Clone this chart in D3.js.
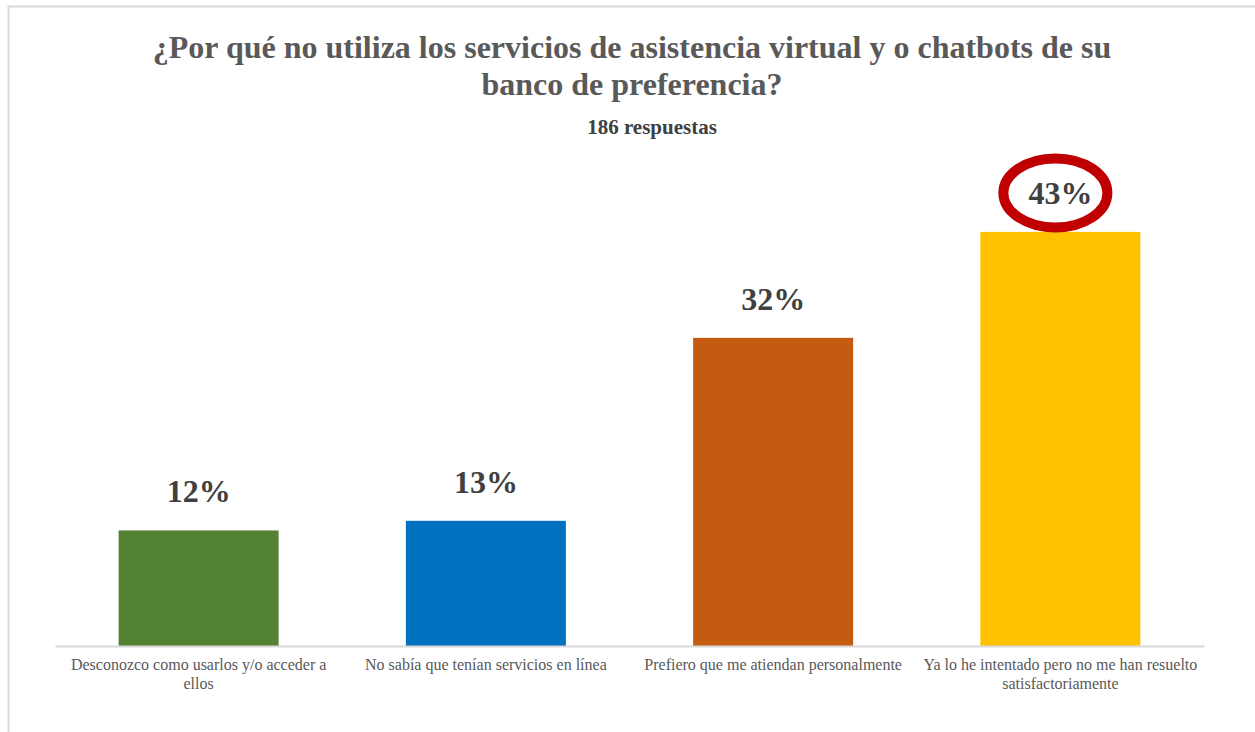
<!DOCTYPE html>
<html lang="es">
<head>
<meta charset="utf-8">
<script src="https://cdn.jsdelivr.net/npm/d3@7"></script>
<style>
  html, body { margin: 0; padding: 0; background: #fff; }
  svg { display: block; }
</style>
</head>
<body>
<svg id="chart" width="1255" height="732"></svg>
<script>
// Survey responses (share of 186 answers)
const categories = [
  "Desconozco como usarlos y/o acceder a ellos",
  "No sabía que tenían servicios en línea",
  "Prefiero que me atiendan personalmente",
  "Ya lo he intentado pero no me han resuelto satisfactoriamente"
];
const values = [12, 13, 32, 43];
const barColors = ["#548235", "#0070C0", "#C55A11", "#FFC000"];
const titleLines = [
  "¿Por qué no utiliza los servicios de asistencia virtual y o chatbots de su",
  "banco de preferencia?"
];
const subtitle = "186 respuestas";
const highlightIndex = 3;

const svg = d3.select("#chart");
const W = 1255, H = 732;
const serif = "'Liberation Serif', 'Times New Roman', serif";

// Chart area frame
svg.append("rect")
  .attr("x", 8.5).attr("y", 6.5)
  .attr("width", W + 10).attr("height", H + 10)
  .attr("fill", "#fff")
  .attr("stroke", "#d9d9d9").attr("stroke-width", 2);

// Title and subtitle
svg.append("text")
  .attr("x", 632).attr("y", 58)
  .attr("text-anchor", "middle")
  .attr("font-family", serif).attr("font-weight", "bold")
  .attr("font-size", 32).attr("fill", "#595959")
  .selectAll("tspan").data(titleLines).join("tspan")
  .attr("x", 632).attr("dy", (d, i) => i === 0 ? 0 : 37)
  .text(d => d);

svg.append("text")
  .attr("x", 652).attr("y", 134)
  .attr("text-anchor", "middle")
  .attr("font-family", serif).attr("font-weight", "bold")
  .attr("font-size", 21).attr("fill", "#404040")
  .text(subtitle);

// Scales
const x = d3.scaleBand()
  .domain(categories)
  .range([55, 1204])
  .paddingInner(0.443)
  .paddingOuter(0.2215);

const y = d3.scaleLinear()
  .domain([0, 50])
  .range([646, 646 - 481.5]);

// Bars
svg.append("g").selectAll("rect")
  .data(values).join("rect")
  .attr("x", (d, i) => x(categories[i]))
  .attr("y", d => y(d))
  .attr("width", x.bandwidth())
  .attr("height", d => y(0) - y(d))
  .attr("fill", (d, i) => barColors[i]);

// Category axis
const xAxis = svg.append("g")
  .attr("transform", `translate(0,${y(0)})`)
  .call(d3.axisBottom(x).tickSize(0).tickPadding(0));
xAxis.select(".domain").attr("stroke", "#d9d9d9").attr("stroke-width", 2);
xAxis.selectAll(".tick text").remove();

// Wrapped category labels
const maxLabelWidth = 281;
xAxis.selectAll(".tick").each(function(cat) {
  const t = d3.select(this).append("text")
    .attr("text-anchor", "middle")
    .attr("font-family", serif).attr("font-size", 16)
    .attr("fill", "#595959")
    .attr("y", 24);
  const words = cat.split(/\s+/);
  let line = [];
  let tspan = t.append("tspan").attr("x", 0).attr("dy", 0);
  words.forEach(w => {
    line.push(w);
    tspan.text(line.join(" "));
    if (tspan.node().getComputedTextLength() > maxLabelWidth && line.length > 1) {
      line.pop();
      tspan.text(line.join(" "));
      line = [w];
      tspan = t.append("tspan").attr("x", 0).attr("dy", 19).text(w);
    }
  });
});

// Value labels
svg.append("g").selectAll("text")
  .data(values).join("text")
  .attr("x", (d, i) => x(categories[i]) + x.bandwidth() / 2)
  .attr("y", d => y(d) - 28)
  .attr("text-anchor", "middle")
  .attr("font-family", serif).attr("font-weight", "bold")
  .attr("font-size", 32).attr("fill", "#404040")
  .text(d => d + "%");

// Highlight ring around the largest share
const hv = values[highlightIndex];
svg.append("ellipse")
  .attr("cx", x(categories[highlightIndex]) + x.bandwidth() / 2 - 5)
  .attr("cy", y(hv) - 39)
  .attr("rx", 52).attr("ry", 34.5)
  .attr("fill", "none")
  .attr("stroke", "#C00000").attr("stroke-width", 10);
</script>
</body>
</html>
